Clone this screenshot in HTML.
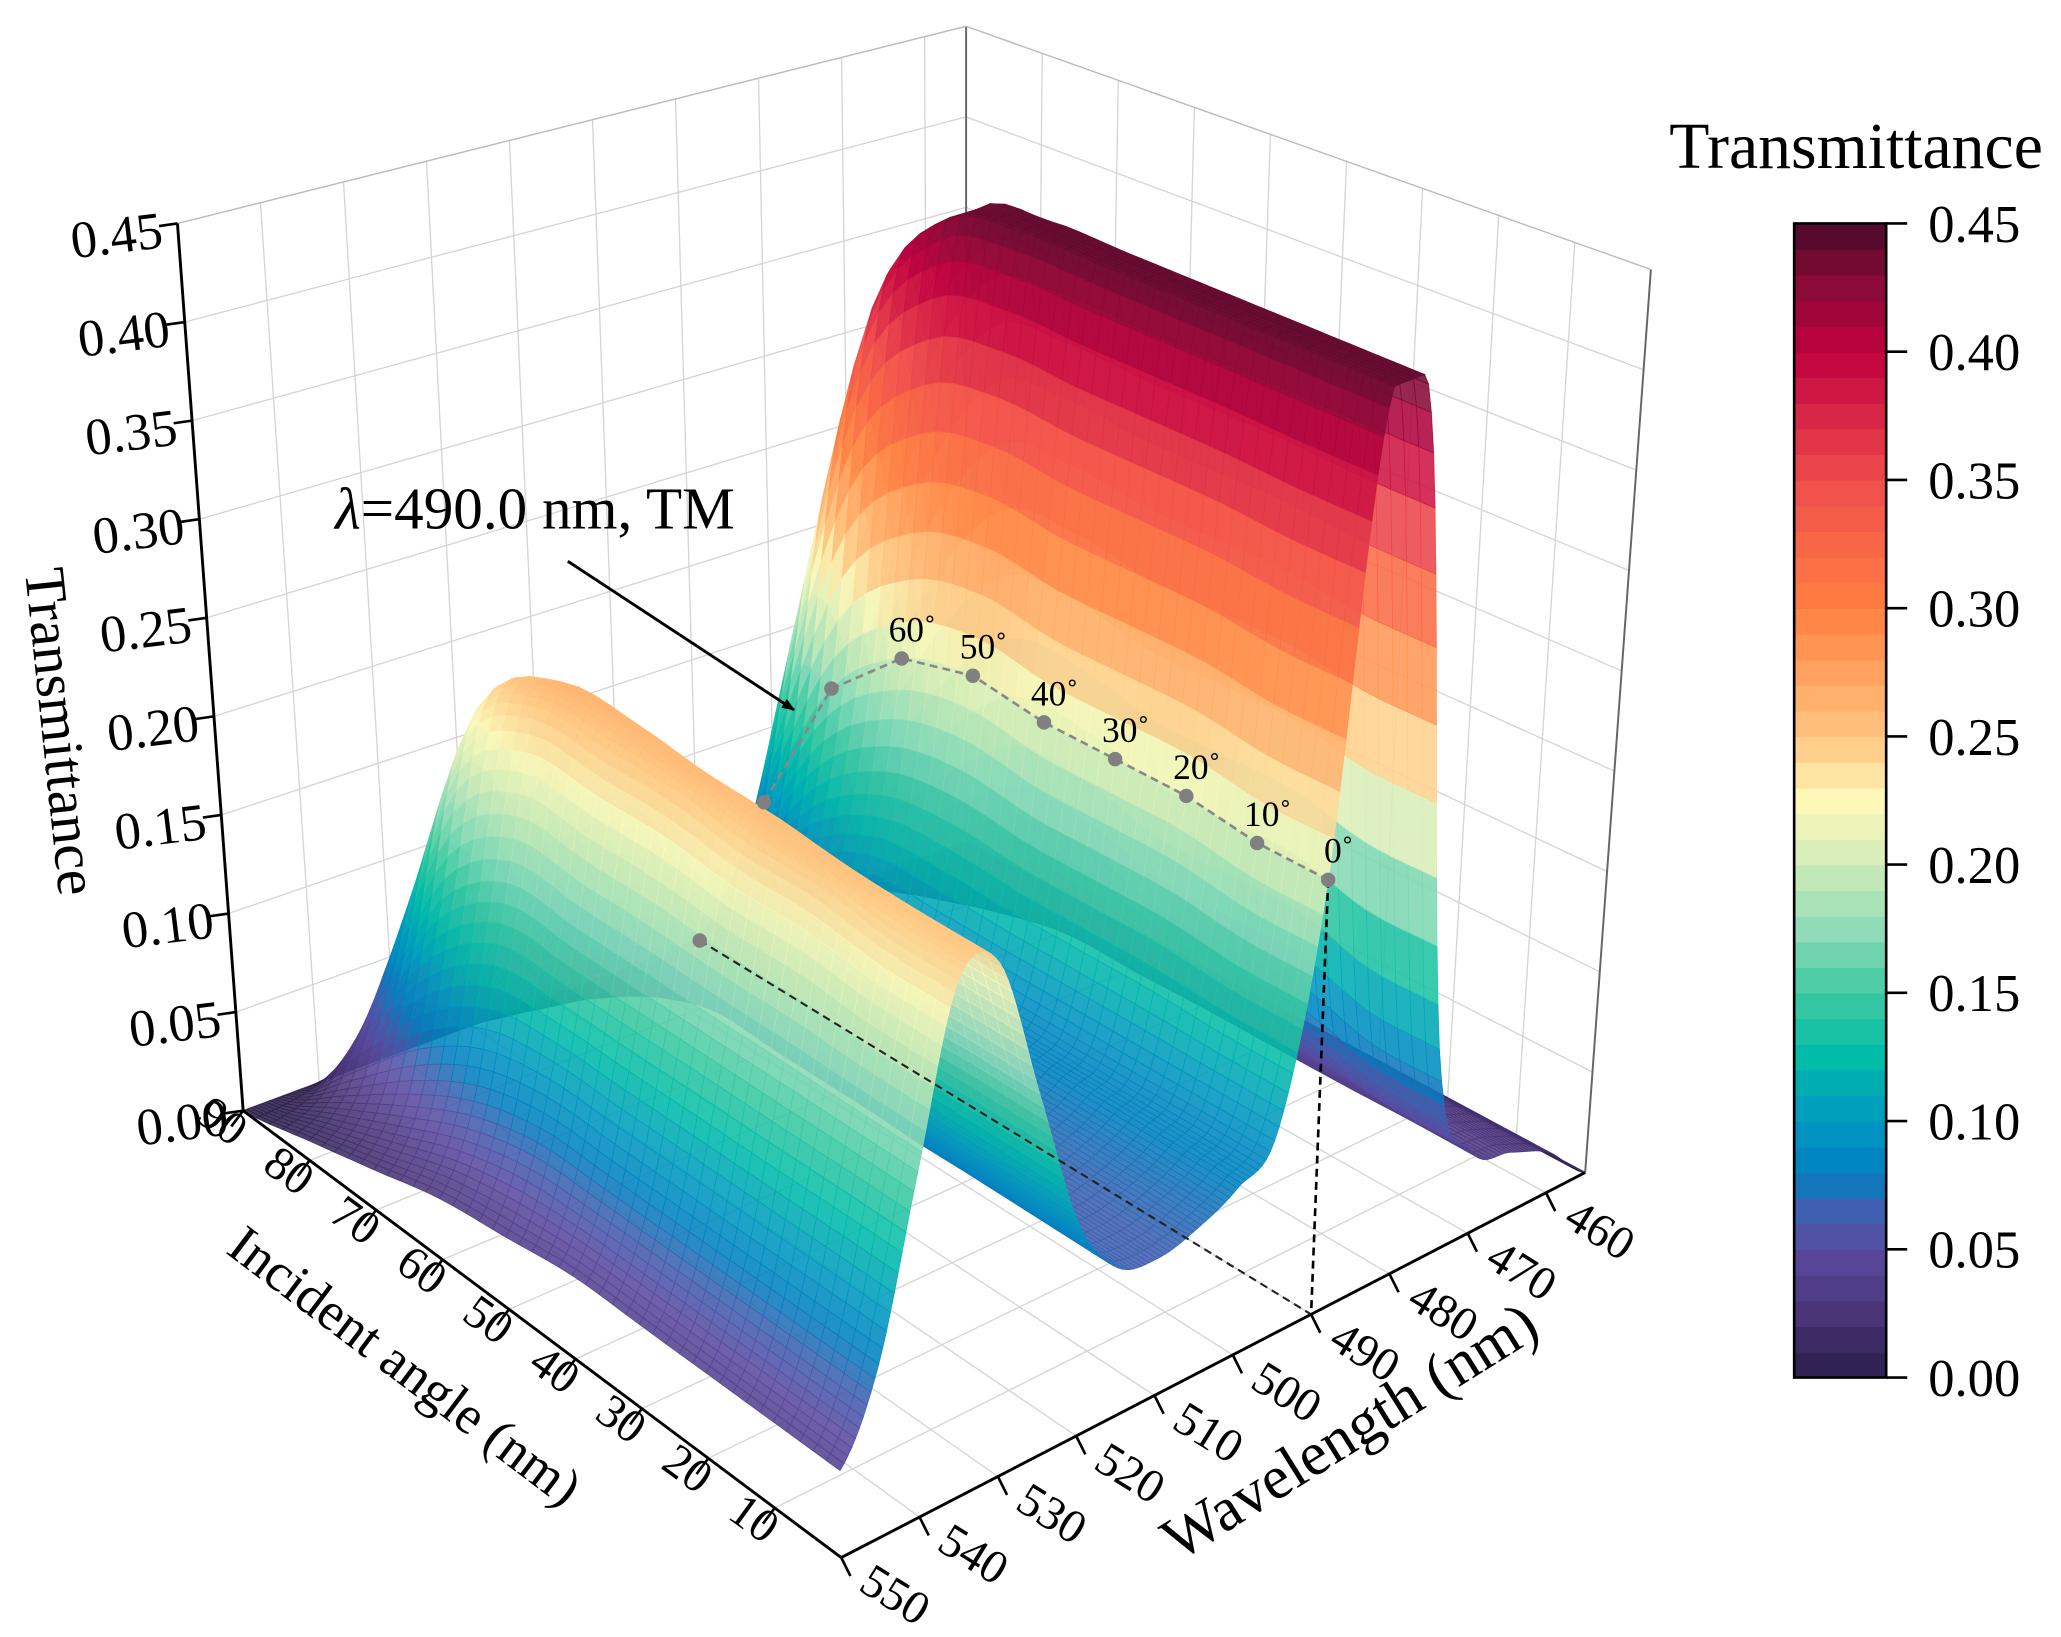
<!DOCTYPE html>
<html><head><meta charset="utf-8"><style>
html,body{margin:0;padding:0;background:#fff;}
svg{display:block;font-family:"Liberation Serif",serif;}
</style></head><body>
<svg id="chart" width="2061" height="1637" viewBox="0 0 1568 1245.4" xmlns="http://www.w3.org/2000/svg">
<defs><marker id="ah" markerWidth="10" markerHeight="8" refX="9" refY="4" orient="auto" markerUnits="userSpaceOnUse" viewBox="0 0 10 8"><path d="M0,0 L10,4 L0,8 z" fill="#000"/></marker></defs>
<g id="walls"></g>
<g id="surface"></g>
<g id="overlay"></g>
<g id="axes"></g>
<g id="cbar"></g>
<text x="255" y="402" font-size="45"><tspan font-style="italic">λ</tspan>=490.0 nm, TM</text>
<line x1="432" y1="427" x2="604" y2="540" stroke="#000" stroke-width="2.2" marker-end="url(#ah)"/>
<text font-size="44" text-anchor="middle" transform="translate(32,558) rotate(84)">Transmittance</text>
<text font-size="41" text-anchor="middle" transform="translate(300,1050) rotate(37)">Incident angle (nm)</text>
<text font-size="47" text-anchor="middle" transform="translate(1035,1102) rotate(-32)">Wavelength (nm)</text>
<text x="1270" y="128" font-size="50">Transmittance</text>
</svg>
<script>
const angles=[0,10,20,30,40,50,60,70,80,90];
const wavelengths=[455,460,465,470,475,480,485,490,495,500,505,510,515,520,525,530,535,540,545,550];
const T0 =[0.00,0.02,0.03,0.04,0.10,0.42,0.43,0.21,0.10,0.08,0.07,0.065,0.07,0.10,0.17,0.24,0.24,0.16,0.08,0.04];
const T10=[0.00,0.02,0.03,0.04,0.10,0.42,0.43,0.21,0.10,0.08,0.07,0.065,0.07,0.10,0.17,0.24,0.24,0.16,0.08,0.04];
const T20=[0.00,0.02,0.03,0.04,0.11,0.42,0.43,0.215,0.10,0.08,0.07,0.065,0.07,0.10,0.17,0.24,0.245,0.16,0.08,0.04];
const T30=[0.00,0.02,0.03,0.04,0.11,0.42,0.43,0.215,0.10,0.08,0.07,0.065,0.07,0.10,0.18,0.245,0.245,0.16,0.08,0.04];
const T40=[0.00,0.02,0.03,0.04,0.11,0.42,0.43,0.215,0.10,0.08,0.07,0.065,0.07,0.11,0.18,0.245,0.25,0.16,0.08,0.04];
const T50=[0.00,0.02,0.03,0.04,0.12,0.42,0.43,0.22,0.10,0.08,0.07,0.065,0.07,0.11,0.18,0.25,0.25,0.16,0.08,0.035];
const T60=[0.00,0.02,0.03,0.04,0.12,0.41,0.42,0.21,0.10,0.08,0.07,0.065,0.07,0.11,0.19,0.25,0.25,0.16,0.07,0.03];
const T70=[0.00,0.01,0.02,0.03,0.09,0.33,0.36,0.175,0.08,0.06,0.05,0.05,0.055,0.09,0.16,0.22,0.22,0.13,0.05,0.02];
const T80=[0.00,0.005,0.01,0.015,0.05,0.17,0.19,0.095,0.04,0.03,0.025,0.025,0.03,0.05,0.08,0.11,0.11,0.065,0.025,0.01];
const T90=[0,0,0,0,0,0,0,0,0,0,0,0,0,0,0,0,0,0,0,0];
const Trows=[T0,T10,T20,T30,T40,T50,T60,T70,T80,T90];
const dotAngles=[0,10,20,30,40,50,60,70,80,90];
const dotValues=[0.21,0.21,0.215,0.215,0.215,0.22,0.21,0.175,0.095,0];
const dotLabels=["0˚","10˚","20˚","30˚","40˚","50˚","60˚","","",""];
const zTicks=[0,0.05,0.10,0.15,0.20,0.25,0.30,0.35,0.40,0.45];
const wlTicks=[460,470,480,490,500,510,520,530,540,550];
const angTicks=[10,20,30,40,50,60,70,80,90];

const NS="http://www.w3.org/2000/svg";
const F=[640,1185],L=[185,845],R=[1206,892],B=[735,640];
const FT=[630,440],LT=[135,170],RT=[1256,205],BT=[735,20];
function bil(a,b,c,d,u,v){return [a[0]*(1-u)*(1-v)+b[0]*u*(1-v)+c[0]*(1-u)*v+d[0]*u*v, a[1]*(1-u)*(1-v)+b[1]*u*(1-v)+c[1]*(1-u)*v+d[1]*u*v];}
function P(a,w,z){const u=a/90,v=(550-w)/95,t=z/0.45;const b=bil(F,L,R,B,u,v),tp=bil(FT,LT,RT,BT,u,v);return [b[0]+(tp[0]-b[0])*t,b[1]+(tp[1]-b[1])*t];}
const stops=[[0,[42,30,72]],[0.025,[74,52,120]],[0.05,[90,74,160]],[0.065,[63,96,176]],[0.08,[0,128,192]],[0.10,[0,152,192]],[0.125,[0,188,168]],[0.15,[62,201,160]],[0.175,[144,220,184]],[0.2,[208,235,184]],[0.225,[253,248,184]],[0.25,[255,197,128]],[0.30,[255,127,64]],[0.35,[240,77,76]],[0.40,[192,0,63]],[0.425,[140,10,55]],[0.45,[74,10,42]]];
function cmap(z){z=Math.max(0,Math.min(0.45,z));for(let i=1;i<stops.length;i++){if(z<=stops[i][0]){const a=stops[i-1],b=stops[i],t=(z-a[0])/(b[0]-a[0]);return 'rgb('+a[1].map((c,k)=>Math.round(c+(b[1][k]-c)*t)).join(',')+')';}}return 'rgb(74,10,42)';}
function cr(p0,p1,p2,p3,t){const v=0.5*((2*p1)+(-p0+p2)*t+(2*p0-5*p1+4*p2-p3)*t*t+(-p0+3*p1-3*p2+p3)*t*t*t);return Math.max(Math.min(p1,p2)-0.01,Math.min(Math.max(p1,p2)+0.01,v));}
function rowVal(r,w){const x=(w-455)/5;let i=Math.min(18,Math.floor(x));const t=x-i;const g=j=>r[Math.max(0,Math.min(19,j))];return Math.max(0,cr(g(i-1),g(i),g(i+1),g(i+2),t));}
function val(a,w){const y=a/10;let i=Math.min(8,Math.floor(y));const t=y-i;const g=j=>rowVal(Trows[Math.max(0,Math.min(9,j))],w);return Math.max(0,cr(g(i-1),g(i),g(i+1),g(i+2),t));}
function el(tag,attrs,parent){const e=document.createElementNS(NS,tag);for(const k in attrs)e.setAttribute(k,attrs[k]);parent.appendChild(e);return e;}
function line(p,q,stroke,sw,parent,name,dash){const e=el('line',{x1:p[0],y1:p[1],x2:q[0],y2:q[1],stroke:stroke,'stroke-width':sw},parent);if(dash)e.setAttribute('stroke-dasharray',dash);


return e;}
const walls=document.getElementById('walls');
const gc='#d4d4d4';
for(const w of wlTicks){line(P(90,w,0),P(90,w,0.45),gc,1,walls,'left-wall-gridline');line(P(0,w,0),P(90,w,0),gc,1,walls,'floor-gridline');}
for(const a of angTicks){line(P(a,455,0),P(a,455,0.45),gc,1,walls,'right-wall-gridline');line(P(a,550,0),P(a,455,0),gc,1,walls,'floor-gridline');}
for(const z of zTicks){line(P(90,550,z),P(90,455,z),gc,1,walls,'left-wall-gridline');line(P(90,455,z),P(0,455,z),gc,1,walls,'right-wall-gridline');}
line(P(90,455,0),P(90,455,0.45),'#666',1.5,walls,'back-edge');
line(P(0,455,0),P(0,455,0.45),'#666',1.5,walls,'right-edge');
line(P(90,550,0.45),P(90,455,0.45),'#bbb',1,walls,'top-edge');
line(P(90,455,0.45),P(0,455,0.45),'#bbb',1,walls,'top-edge');
line(P(90,550,0),P(90,455,0),'#999',1,walls,'back-floor-edge');
line(P(90,455,0),P(0,455,0),'#999',1,walls,'back-floor-edge');
const surf=document.getElementById('surface');
const da=2,dw=0.5;const grid=[];
for(let a=0;a<=90;a+=da){const row=[];for(let w=455;w<=550.001;w+=dw){const z=val(a,w);row.push({a:a,w:w,z:z,p:P(a,w,z)});}grid.push(row);}
const quads=[];
for(let i=0;i<grid.length-1;i++)for(let j=0;j<grid[i].length-1;j++){const q=[grid[i][j],grid[i+1][j],grid[i+1][j+1],grid[i][j+1]];const a=(q[0].a+q[1].a)/2,w=(q[0].w+q[3].w)/2;quads.push({q:q,d:a/90+(550-w)/95,z:(q[0].z+q[1].z+q[2].z+q[3].z)/4});}
quads.sort((x,y)=>y.d-x.d);
for(const o of quads){const pts=o.q.map(n=>n.p[0].toFixed(1)+','+n.p[1].toFixed(1)).join(' ');const c=cmap(o.z);
const e=el('polygon',{points:pts,fill:c,stroke:c,'stroke-width':0.6,'fill-opacity':0.88,'stroke-opacity':0.88},surf);

}
const ov=document.getElementById('overlay');
const floor0=P(0,490,0),floor90=P(90,490,0);
line(floor90,floor0,'#222',1.6,ov,'floor-projection-line','6,4');
line(P(0,490,dotValues[0]),floor0,'#000',2,ov,'vertical-drop-line','6,4');
let d='';dotAngles.forEach((a,i)=>{if(a===90)return;const p=P(a,490,dotValues[i]);d+=(d?'L':'M')+p[0].toFixed(1)+','+p[1].toFixed(1);});
const pth=el('path',{d:d,fill:'none',stroke:'#888','stroke-width':2,'stroke-dasharray':'6,4'},ov);


dotAngles.forEach((a,i)=>{const p=a===90?floor90:P(a,490,dotValues[i]);
const c=el('circle',{cx:p[0],cy:p[1],r:5.5,fill:'#808080'},ov);


if(dotLabels[i]){const t=el('text',{x:p[0]+8,y:p[1]-13,'font-size':27,'text-anchor':'middle'},ov);t.textContent=dotLabels[i];

}});
const ax=document.getElementById('axes');
line(P(90,550,0),P(90,550,0.45),'#000',2.2,ax,'z-axis-line');
line(P(0,550,0),P(90,550,0),'#000',2.2,ax,'angle-axis-line');
line(P(0,550,0),P(0,455,0),'#000',2.2,ax,'wavelength-axis-line');
for(const z of zTicks){const p=P(90,550,z);line(p,[p[0]-14,p[1]+2],'#000',2,ax,'z-tick');
const t=el('text',{'font-size':40,'text-anchor':'end',transform:'translate('+(p[0]-10)+','+(p[1]+18)+') rotate(-7)'},ax);t.textContent=z.toFixed(2);

}
for(const w of wlTicks){const p=P(0,w,0);line(p,[p[0]+7,p[1]+14],'#000',2,ax,'wavelength-tick');
const t=el('text',{'font-size':36,'text-anchor':'start',transform:'translate('+(p[0]+12)+','+(p[1]+24)+') rotate(32)'},ax);t.textContent=w;

}
for(const a of angTicks){const p=P(a,550,0);line(p,[p[0]-9,p[1]+12],'#000',2,ax,'angle-tick');
const t=el('text',{'font-size':36,'text-anchor':'end',transform:'translate('+(p[0]-8)+','+(p[1]+28)+') rotate(36)'},ax);t.textContent=a;

}
const cb=document.getElementById('cbar');
const cx0=1365,cx1=1435,cy0=1048,cy1=170;
for(let k=0;k<45;k++){const z0=k*0.01;const y1=cy0-(z0+0.01)/0.45*(cy0-cy1),y0=cy0-z0/0.45*(cy0-cy1);
const r=el('rect',{x:cx0,y:y1.toFixed(2),width:cx1-cx0,height:(y0-y1+0.6).toFixed(2),fill:cmap(z0+0.005)},cb);

}
const fr=el('rect',{x:cx0,y:cy1,width:cx1-cx0,height:cy0-cy1,fill:'none',stroke:'#000','stroke-width':2},cb);


for(const z of zTicks){const y=cy0-z/0.45*(cy0-cy1);line([cx1,y],[cx1+16,y],'#000',2,cb,'colorbar-tick');
const t=el('text',{x:1467,y:y+14,'font-size':40},cb);t.textContent=z.toFixed(2);

}
</script>
</body></html>
